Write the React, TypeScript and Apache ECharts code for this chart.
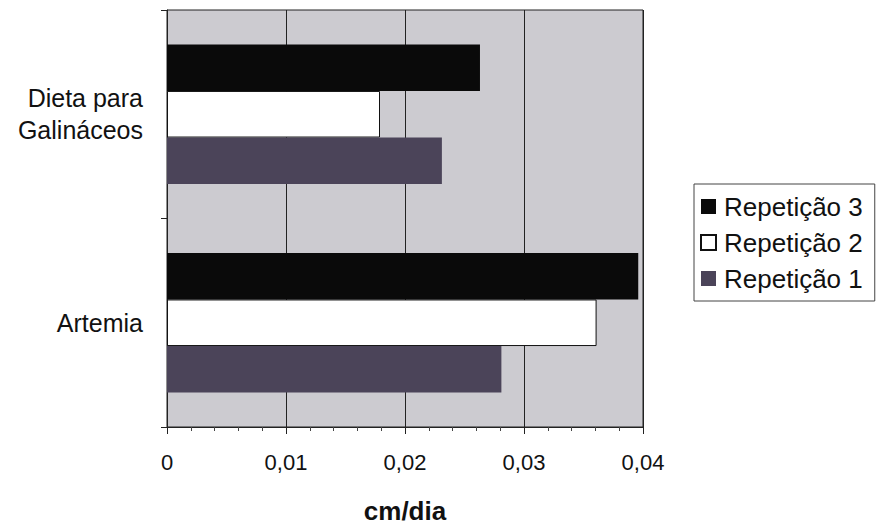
import React, { useEffect, useRef } from "react";
import * as echarts from "echarts";

const categories = ["Artemia", "Dieta para\nGalináceos"];
const seriesNames = ["Repetição 3", "Repetição 2", "Repetição 1"];
const rep3 = [0.0396, 0.0263];
const rep2 = [0.0361, 0.0179];
const rep1 = [0.0281, 0.0231];
const legendOrder = ["Repetição 3", "Repetição 2", "Repetição 1"];

const FONT = "'Liberation Sans', Arial, sans-serif";

export default function App() {
  const ref = useRef<HTMLDivElement>(null);
  useEffect(() => {
    document.body.style.margin = "0";
    if (!ref.current) return;
    const chart = echarts.init(ref.current, undefined, { renderer: "svg" });
    const values = [rep3, rep2, rep1];
    const fills = ["#0a0a0a", "#ffffff", "#4b4459"];
    chart.setOption({
      animation: false,
      backgroundColor: "#ffffff",
      textStyle: { fontFamily: FONT },
      grid: {
        left: 167,
        right: 240,
        top: 10,
        bottom: 99,
        show: true,
        backgroundColor: "#cccbd0",
        borderColor: "#222",
        borderWidth: 1,
      },
      legend: {
        orient: "vertical",
        left: 694,
        top: 184,
        data: legendOrder,
        icon: "rect",
        itemWidth: 15,
        itemHeight: 15,
        itemGap: 7,
        padding: [8, 12, 8, 6],
        borderColor: "#444",
        borderWidth: 1,
        backgroundColor: "#fff",
        textStyle: { fontSize: 26, color: "#111", fontFamily: FONT, padding: [0, 0, 0, 3], lineHeight: 29 },
      },
      xAxis: {
        type: "value",
        min: 0,
        max: 0.04,
        interval: 0.01,
        name: "cm/dia",
        nameLocation: "middle",
        nameGap: 71,
        nameTextStyle: { fontSize: 26, fontWeight: "bold", color: "#111", fontFamily: FONT },
        axisLine: { show: true, lineStyle: { color: "#222", width: 1 } },
        axisTick: { show: true, length: 7, lineStyle: { color: "#222" } },
        minorTick: { show: true, splitNumber: 5, length: 4, lineStyle: { color: "#444" } },
        splitLine: { show: true, lineStyle: { color: "#222", width: 1 } },
        axisLabel: {
          fontSize: 22,
          color: "#111",
          margin: 24,
          fontFamily: FONT,
          formatter: (v: number) => (v === 0 ? "0" : v.toFixed(2).replace(".", ",")),
        },
      },
      yAxis: {
        type: "category",
        data: categories,
        axisLine: { show: true, lineStyle: { color: "#222" } },
        axisTick: { show: true, length: 6, alignWithLabel: false, lineStyle: { color: "#222" } },
        axisLabel: {
          fontSize: 25,
          color: "#111",
          margin: 24,
          lineHeight: 32,
          align: "right",
          fontFamily: FONT,
        },
      },
      series: seriesNames.map((name, i) => ({
        name,
        type: "bar",
        data: values[i],
        barCategoryGap: "33%",
        barGap: "0%",
        itemStyle: {
          color: fills[i],
          borderColor: i === 1 ? "#111" : fills[i],
          borderWidth: i === 1 ? 1 : 0,
        },
      })),
    });
    return () => chart.dispose();
  }, []);
  return <div ref={ref} style={{ width: 883, height: 529 }} />;
}
